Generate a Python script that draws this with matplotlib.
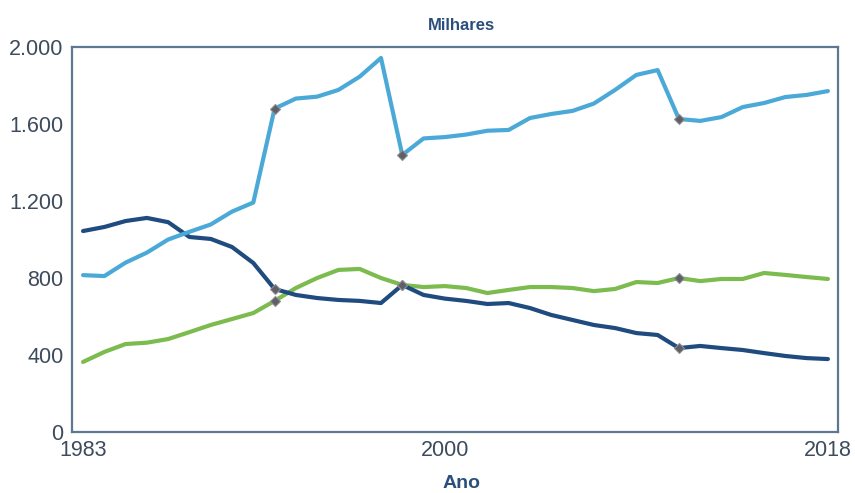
import matplotlib.pyplot as plt
import matplotlib.ticker as ticker
import numpy as np

plt.rcParams["font.family"] = ["Liberation Sans", "DejaVu Sans"]

# dados (milhares)
anos = np.arange(1983, 2019)

serie_azul_claro = [815, 810, 880, 932, 1000, 1040, 1078, 1145, 1192, 1680,
                    1732, 1742, 1777, 1846, 1943, 1439, 1525, 1532, 1545, 1565,
                    1569, 1631, 1652, 1668, 1706, 1777, 1855, 1880, 1626, 1616,
                    1636, 1688, 1709, 1740, 1751, 1771]
serie_azul_escuro = [1044, 1065, 1096, 1112, 1090, 1013, 1003, 961, 878, 743,
                     712, 696, 686, 681, 670, 764, 712, 693, 681, 665,
                     670, 644, 608, 582, 556, 540, 514, 504, 436, 447,
                     436, 426, 410, 395, 384, 379]
serie_verde = [364, 416, 457, 464, 483, 519, 556, 587, 618, 681,
               748, 800, 842, 847, 800, 764, 753, 758, 748, 722,
               738, 753, 753, 748, 732, 743, 779, 774, 800, 784,
               795, 795, 826, 816, 805, 795]

anos_marcados = [1992, 1998, 2011]
xticks = [1983, 2000, 2018]
yticks = [0, 400, 800, 1200, 1600, 2000]

cores = ["#4BA9D8", "#1F4B7E", "#7CBB4E"]
cor_eixo = "#5E7891"
cor_texto = "#3D4B5C"

fig = plt.figure(figsize=(8.55, 4.93), dpi=100)
ax = fig.add_axes([0.0842, 0.1237, 0.8958, 0.781])

for serie, cor in zip([serie_verde, serie_azul_escuro, serie_azul_claro], [cores[2], cores[1], cores[0]]):
    ax.plot(anos, serie, color=cor, lw=3, solid_capstyle="round", zorder=2)
    idx = [list(anos).index(a) for a in anos_marcados]
    ax.plot(anos[idx], np.array(serie)[idx], ls="none", marker="D", ms=5,
            color="#5F5F66", mec="#8E8E96", mew=0.8, zorder=3)

ax.set_xlim(1982.48, 2018.47)
ax.set_ylim(0, 2000)
ax.set_xticks(xticks)
ax.set_yticks(yticks)
ax.yaxis.set_major_formatter(ticker.FuncFormatter(lambda v, _: f"{int(v):,}".replace(",", ".")))
ax.tick_params(axis="both", length=0, labelsize=15.5, colors=cor_texto)
ax.tick_params(axis="x", pad=6)
ax.tick_params(axis="y", pad=6)

for s in ax.spines.values():
    s.set_color(cor_eixo)
    s.set_linewidth(1.6)

fig.text(0.54, 0.948, "Milhares", ha="center", va="center",
         fontsize=12, fontweight="bold", color="#2B4F7C")
fig.text(0.54, 0.02, "Ano", ha="center", va="center",
         fontsize=14, fontweight="bold", color="#2B4F7C")

plt.savefig("out.png", dpi=100, facecolor="white")
